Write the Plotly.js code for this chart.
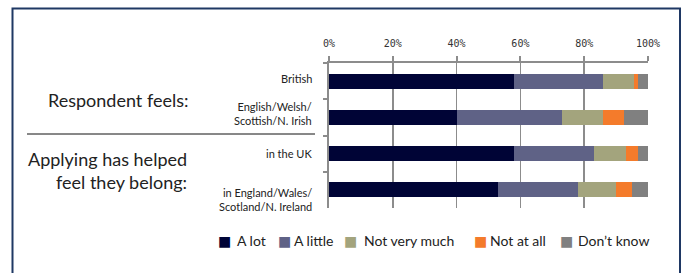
<!DOCTYPE html>
<html>
<head>
<meta charset="utf-8">
<script src="https://cdn.plot.ly/plotly-3.0.1.min.js"></script>
<style>html,body{margin:0;padding:0;background:#fff;}#chart{width:684px;height:273px;}</style>
</head>
<body>
<div id="chart"></div>
<script>
// ---- data ----
var categories = ['British', 'English/Welsh/<br>Scottish/N. Irish', 'in the UK', 'in England/Wales/<br>Scotland/N. Ireland'];
var seriesNames = ['A lot', 'A little', 'Not very much', 'Not at all', "Don\u2019t know"];
var aLot = [58, 40, 58, 53];
var aLittle = [28, 33, 25, 25];
var notVeryMuch = [9.5, 13, 10, 12];
var notAtAll = [1.5, 6.5, 4, 5];
var dontKnow = [3, 7.5, 3, 5];
var groupLabels = ['Respondent feels:', 'Applying has helped<br>feel they belong:'];

// ---- styles / layout positions ----
var colors = ['#000436', '#5F6286', '#A3A47D', '#F47B2B', '#808080'];
var labelShift = [3, 4, 0, -10];
var legendSwatchX = [224, 284, 350, 480, 566];
var legendTextX = [235, 292, 362, 488, 576];
var legendY = 240;
var W = 684, H = 273;
var L = 329, R = 648, T = 63, B = 208;
function px(x) { return (x - L) / (R - L); }
function py(y) { return (B - y) / (B - T); }

var values = [aLot, aLittle, notVeryMuch, notAtAll, dontKnow];
var traces = values.map(function (v, i) {
  return {
    type: 'bar', orientation: 'h', name: seriesNames[i],
    y: categories, x: v,
    marker: { color: colors[i], line: { width: 0 } },
    hoverinfo: 'x+name'
  };
});

var annotations = categories.map(function (c, i) {
  return {
    xref: 'paper', yref: 'y', x: 0, y: c, xanchor: 'right', yanchor: 'middle',
    xshift: -15, yshift: labelShift[i], text: c, showarrow: false, align: 'right',
    font: { family: 'Lato, sans-serif', size: 11, color: '#222' }
  };
});
annotations.push({
  xref: 'paper', yref: 'paper', x: px(190), y: py(100), xanchor: 'right', yanchor: 'middle',
  text: groupLabels[0], showarrow: false, align: 'right',
  font: { family: 'Lato, sans-serif', size: 18, color: '#222' }
});
annotations.push({
  xref: 'paper', yref: 'paper', x: px(189), y: py(170), xanchor: 'right', yanchor: 'middle',
  text: groupLabels[1], showarrow: false, align: 'right',
  font: { family: 'Lato, sans-serif', size: 18, color: '#222' }
});
// legend (swatch glyph + label)
seriesNames.forEach(function (n, i) {
  annotations.push({
    xref: 'paper', yref: 'paper', x: px(legendSwatchX[i]), y: py(legendY + 1), xanchor: 'center', yanchor: 'middle',
    text: '\u25A0', showarrow: false,
    font: { family: 'DejaVu Sans, sans-serif', size: 14, color: colors[i] }
  });
  annotations.push({
    xref: 'paper', yref: 'paper', x: px(legendTextX[i]), y: py(legendY), xanchor: 'left', yanchor: 'middle',
    text: n, showarrow: false,
    font: { family: 'Lato, sans-serif', size: 14, color: '#222' }
  });
});

var layout = {
  width: W, height: H,
  margin: { l: L, r: W - R, t: T, b: H - B, pad: 0 },
  paper_bgcolor: '#fff', plot_bgcolor: '#fff',
  barmode: 'stack', bargap: 0.58,
  showlegend: false,
  xaxis: {
    side: 'top', range: [0, 100], dtick: 20, ticksuffix: '%',
    showgrid: true, gridcolor: '#8c8c8c', gridwidth: 1.5,
    showline: true, linecolor: '#8c8c8c', linewidth: 2,
    ticks: 'outside', ticklen: 5, tickwidth: 2, tickcolor: '#8c8c8c',
    ticklabelstandoff: 5,
    tickfont: { family: 'DejaVu Sans Mono, monospace', size: 10, color: '#333' },
    zeroline: false, fixedrange: true
  },
  yaxis: {
    type: 'category', autorange: 'reversed', showticklabels: false,
    ticks: 'outside', tickson: 'boundaries', ticklen: 4, tickwidth: 2, tickcolor: '#8c8c8c',
    showline: true, linecolor: '#8c8c8c', linewidth: 2, showgrid: false, fixedrange: true
  },
  annotations: annotations,
  shapes: [
    { type: 'line', xref: 'paper', yref: 'paper', x0: px(27), x1: px(315), y0: py(134), y1: py(134),
      line: { color: '#111', width: 1 } },
    { type: 'rect', xref: 'paper', yref: 'paper', x0: px(12.5), x1: px(680), y0: py(8.5), y1: py(290),
      line: { color: '#1F3864', width: 2 }, fillcolor: 'rgba(0,0,0,0)' }
  ]
};

Plotly.newPlot('chart', traces, layout, { displayModeBar: false, staticPlot: true });
</script>
</body>
</html>
